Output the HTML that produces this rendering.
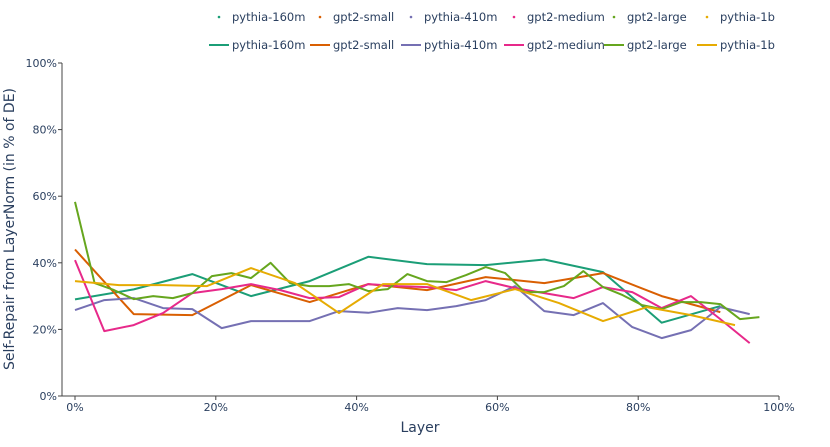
<!DOCTYPE html>
<html><head><meta charset="utf-8"><style>
body{margin:0;background:#fff;}
svg{display:block;font-family:"DejaVu Sans","Liberation Sans",sans-serif;}
</style></head><body>
<svg id="chart" width="830" height="447" viewBox="0 0 830 447"></svg>
<script>
const seriesNames=["pythia-160m","gpt2-small","pythia-410m","gpt2-medium","gpt2-large","pythia-1b"];
const seriesColors=["#1b9e77","#d95f02","#7570b3","#e7298a","#66a61e","#e6ab02"];
const seriesLayers=[12,12,24,24,36,16];
const pythia160m=[29,32,36.6,30,34.5,41.8,39.6,39.3,41,37.2,22,27];
const gpt2Small=[44,24.6,24.3,33.3,28.2,33.6,31.8,35.7,33.9,36.9,30,25.2];
const pythia410m=[25.8,28.8,29.4,26.4,26.1,20.4,22.5,22.5,22.5,25.5,25,26.4,25.8,27,28.8,33,25.5,24.3,27.9,20.7,17.4,19.8,26.7,24.6];
const gpt2Medium=[40.8,19.5,21.3,24.9,30.9,32.1,33.6,31.8,29.4,29.7,33.6,33,32.7,31.8,34.5,32.4,30.9,29.4,32.7,31.2,26.4,30,23.1,15.9];
const gpt2Large=[58.3,33.9,31.8,29.1,30,29.4,30.9,36,36.9,35.4,40,33.9,33,33,33.6,31.5,32.1,36.6,34.5,34.2,36.3,38.7,36.9,31.2,31.2,33,37.5,32.7,30.3,27.3,26.1,28.2,28.2,27.6,23.1,23.7];
const pythia1b=[34.5,33.3,33.3,33,38.4,33.9,24.9,33.6,33.6,28.8,32.1,27.9,22.5,26.7,24.3,21.3];
const allSeries=[pythia160m,gpt2Small,pythia410m,gpt2Medium,gpt2Large,pythia1b];
const xTicks=[0,20,40,60,80,100];
const yTicks=[0,20,40,60,80,100];

const NS="http://www.w3.org/2000/svg";
const svg=document.getElementById("chart");
const X0=75,X1=779,Y0=396,Y1=63;
const xs=v=>X0+(X1-X0)*v/100;
const ys=v=>Y0-(Y0-Y1)*v/100;
function mk(tag,attrs,parent){const e=document.createElementNS(NS,tag);for(const k in attrs)e.setAttribute(k,attrs[k]);(parent||svg).appendChild(e);return e;}

const axes=mk("g",{});


const ly=mk("line",{x1:62,y1:Y1,x2:62,y2:Y0,stroke:"#444","stroke-width":1},axes);


const lx=mk("line",{x1:62,y1:Y0,x2:779,y2:Y0,stroke:"#444","stroke-width":1},axes);


yTicks.forEach(t=>{
  mk("line",{x1:58,x2:62,y1:ys(t),y2:ys(t),stroke:"#444"},axes);
  const tx=mk("text",{x:57,y:ys(t)+4,"text-anchor":"end","font-size":11,fill:"#2a3f5f"},axes);
  tx.textContent=t+"%";
  
  
});
xTicks.forEach(t=>{
  mk("line",{x1:xs(t),x2:xs(t),y1:Y0,y2:Y0+4,stroke:"#444"},axes);
  const tx=mk("text",{x:xs(t),y:411,"text-anchor":"middle","font-size":11,fill:"#2a3f5f"},axes);
  tx.textContent=t+"%";
  
  
});
const xt=mk("text",{x:420,y:432,"text-anchor":"middle","font-size":14,fill:"#2a3f5f"});
xt.textContent="Layer";


const yt=mk("text",{x:14,y:229,"text-anchor":"middle","font-size":14,fill:"#2a3f5f",transform:"rotate(-90 14 229)"});
yt.textContent="Self-Repair from LayerNorm (in % of DE)";



allSeries.forEach((vals,i)=>{
  const n=seriesLayers[i];
  const pts=vals.map((v,k)=>xs(100*k/n).toFixed(1)+","+ys(v).toFixed(1)).join(" ");
  const pl=mk("polyline",{points:pts,fill:"none",stroke:seriesColors[i],"stroke-width":2,"stroke-linejoin":"round"});
  
  
});

const legX=[217,318,409,512,612,705];
seriesNames.forEach((nm,i)=>{
  const g1=mk("g",{});
  
  
  mk("circle",{cx:legX[i]+2,cy:17,r:1.3,fill:seriesColors[i]},g1);
  const t1=mk("text",{x:legX[i]+15,y:21,"font-size":11.5,fill:"#2a3f5f"},g1);
  t1.textContent=nm;
  const g2=mk("g",{});
  
  
  mk("line",{x1:legX[i]-8,x2:legX[i]+12,y1:45,y2:45,stroke:seriesColors[i],"stroke-width":2},g2);
  const t2=mk("text",{x:legX[i]+15,y:49,"font-size":11.5,fill:"#2a3f5f"},g2);
  t2.textContent=nm;
});
</script>
</body></html>
